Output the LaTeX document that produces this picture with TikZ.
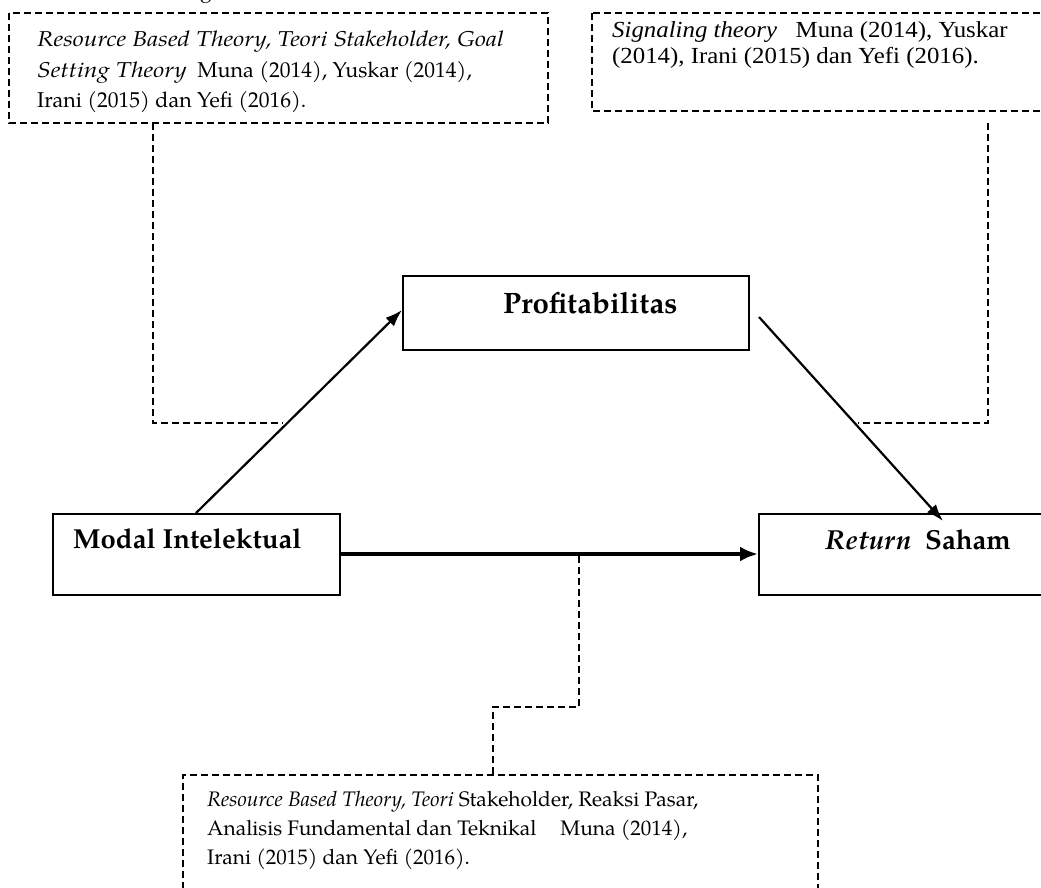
\documentclass[tikz,border=0pt]{standalone}
\usepackage{fontspec}
\setmainfont{TeX Gyre Pagella}[ItalicFeatures={FakeStretch=1.15},BoldItalicFeatures={FakeStretch=1.0}]
\newfontfamily\plainpag{TeX Gyre Pagella}
\newfontfamily\timesfont{Liberation Serif}[FakeStretch=1.08]
\usetikzlibrary{arrows.meta,calc}
\begin{document}
\begin{tikzpicture}[x=1pt,y=-1pt,
  solidbox/.style={draw,line width=1.6pt,rectangle,inner sep=0pt,anchor=north west},
  dashbox/.style={draw,line width=1.6pt,dash pattern=on 7pt off 4pt},
  dashline/.style={line width=1.6pt,dash pattern=on 7pt off 4pt},
  txt/.style={anchor=base west,inner sep=0pt,font=\fontsize{21.5}{31}\selectfont},
  btxt/.style={anchor=base west,inner sep=0pt,font=\plainpag\fontsize{21}{29}\selectfont},
  ttxt/.style={anchor=base west,inner sep=0pt,font=\timesfont\fontsize{23}{27}\selectfont},
  lbl/.style={anchor=base west,inner sep=0pt,font=\fontsize{27.5}{32}\selectfont\bfseries},
  arr/.style={line width=2.2pt,-{Latex[length=17pt,width=12pt]}},
  thickarr/.style={line width=4.2pt,-{Latex[length=18pt,width=15pt]}}
]
\useasboundingbox (0,0) rectangle (1041,887);
% partial title glyph at the top edge
\node[txt] (title) at (200,-3) {g};
% dashed boxes
\draw[dashbox] (9,13) rectangle (548,123);
\draw[dashbox] (592,13) rectangle (1070,111);
\draw[dashbox] (183,900) -- (183,775) -- (818,775) -- (818,900);
% texts top-left
\node[txt] (tl1) at (37,46) {\itshape Resource Based Theory, Teori Stakeholder, Goal};
\node[txt] (tl2) at (37,77) {\textit{Setting Theory}\ \ Muna (2014), Yuskar (2014),};
\node[txt] (tl3) at (37,107) {Irani (2015) dan Yefi (2016).};
% texts top-right
\node[ttxt] (tr1) at (612,37) {\textit{Signaling theory}\ \ \ Muna (2014), Yuskar};
\node[ttxt] (tr2) at (612,63) {(2014), Irani (2015) dan Yefi (2016).};
% texts bottom
\node[btxt] (b1) at (207,806) {\textit{Resource Based Theory, Teori} Stakeholder, Reaksi Pasar,};
\node[btxt] (b2) at (207,835) {Analisis Fundamental dan Teknikal\hspace{24pt}Muna (2014),};
\node[btxt] (b3) at (207,864) {Irani (2015) dan Yefi (2016).};
% solid boxes
\node[solidbox,minimum width=346pt,minimum height=74pt] (prof) at (402,275) {};
\node[solidbox,minimum width=287pt,minimum height=81pt] (modal) at (52,513) {};
\node[solidbox,minimum width=300pt,minimum height=81pt] (ret) at (758,513) {};
\node[lbl,font=\fontsize{29.5}{34}\selectfont\bfseries] (proft) at (503,313) {Profitabilitas};
\node[lbl] (modalt) at (73,548) {Modal Intelektual};
\node[lbl] (rett) at (825,549) {\textit{Return}\ \ Saham};
% arrow endpoints
\coordinate (a1s) at (196,513);
\coordinate (a1e) at (402,310);
\coordinate (a2s) at (759,317);
\coordinate (a2e) at (943,521);
\coordinate (a3s) at (339,554);
\coordinate (a3e) at (758,554);
\draw[arr] (a1s) -- (a1e);
\draw[arr] (a2s) -- (a2e);
\draw[thickarr] (a3s) -- (a3e);
% dashed connectors
\coordinate (c1a) at (153,123);
\coordinate (c1b) at (153,423);
\coordinate (c1c) at (283,423);
\draw[dashline] (c1a) -- (c1b) -- (c1c);
\coordinate (c2a) at (988,123);
\coordinate (c2b) at (988,423);
\coordinate (c2c) at (858,423);
\draw[dashline] (c2a) -- (c2b) -- (c2c);
\coordinate (c3a) at (579,556);
\coordinate (c3b) at (579,707);
\coordinate (c3c) at (493,707);
\coordinate (c3d) at (493,775);
\draw[dashline] (c3a) -- (c3b) -- (c3c) -- (c3d);
\end{tikzpicture}
\end{document}
